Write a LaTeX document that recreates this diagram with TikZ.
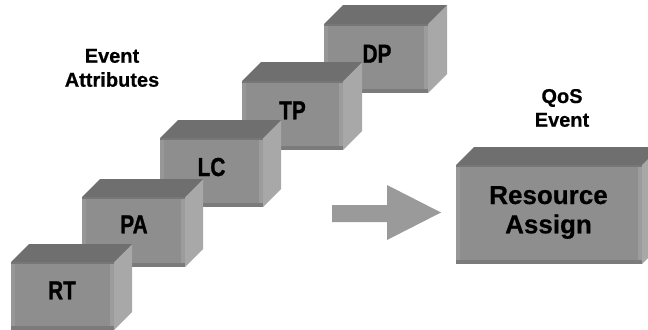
\documentclass[tikz,border=0pt]{standalone}
\usepackage{fontspec}
\setmainfont{Liberation Sans}
\newfontfamily\heavyfont[BoldFeatures={FakeBold=1.2}]{Liberation Sans}
\newfontfamily\capfont[BoldFeatures={FakeBold=0.5}]{Liberation Sans}
\definecolor{facecol}{HTML}{8E8E8E}
\definecolor{topcol}{HTML}{6F6F6F}
\definecolor{sidecol}{HTML}{A8A8A8}
\definecolor{leftcol}{HTML}{979797}
\definecolor{botcol}{HTML}{7B7B7B}
\definecolor{rightcol}{HTML}{9C9C9C}
\definecolor{edgecol}{HTML}{777777}
\definecolor{arrowcol}{HTML}{9A9A9A}
\tikzset{
  face/.style={fill=facecol, draw=none, inner sep=0pt, rectangle},
  boxlabel/.style={anchor=base, inner sep=0pt, font=\heavyfont\fontsize{26bp}{30bp}\selectfont\bfseries},
  biglabel/.style={anchor=base, inner sep=0pt, font=\capfont\fontsize{26bp}{30bp}\selectfont\bfseries},
  caption/.style={anchor=base, inner sep=0pt, font=\capfont\fontsize{20bp}{24bp}\selectfont\bfseries},
}
% #1 name, #2 x0, #3 y0, #4 x1, #5 y1, #6 depth
\newcommand\cubebox[6]{%
  \fill[sidecol] (#4,#3) -- (#4+#6,#3-#6) -- (#4+#6,#5-#6) -- (#4,#5) -- cycle;
  \fill[topcol] (#2,#3) -- (#2+#6,#3-#6) -- (#4+#6,#3-#6) -- (#4,#3) -- cycle;
  \node[face, minimum width={(#4-#2)*1bp}, minimum height={(#5-#3)*1bp}] (#1) at ({(#2+#4)/2},{(#3+#5)/2}) {};
  \fill[leftcol] (#2,#3) rectangle (#2+4,#5);
  \fill[rightcol] (#4-4,#3) rectangle (#4,#5);
  \fill[botcol] (#2,#5-4) rectangle (#4,#5);
  \fill[edgecol] (#2,#3) rectangle (#4,#3+2);
}
\begin{document}
\begin{tikzpicture}[x=1bp,y=-1bp]
\useasboundingbox (0,0) rectangle (648,329);
% boxes, back to front
\cubebox{dp}{324}{24}{428}{93}{19}
\node[boxlabel] (dpl) at (377,62.7) {\scalebox{0.8}[1]{DP}};
\cubebox{tp}{242}{81}{343}{150}{19}
\node[boxlabel] (tpl) at (292.5,119.3) {\scalebox{0.8}[1]{TP}};
\cubebox{lc}{160}{138}{263}{207}{18}
\node[boxlabel] (lcl) at (211.5,176) {\scalebox{0.8}[1]{LC}};
\cubebox{pa}{82}{197}{185}{267}{18}
\node[boxlabel] (pal) at (134,233.3) {\scalebox{0.8}[1]{PA}};
\cubebox{rt}{11}{262}{114}{330}{18}
\node[boxlabel] (rtl) at (62,299.3) {\scalebox{0.8}[1]{RT}};
% resource assign
\cubebox{ra}{456}{165}{642}{264}{18}
\node[biglabel] (ra1) at (548.5,204) {Resource};
\node[biglabel] (ra2) at (548.5,233.3) {Assign};
% arrow
\fill[arrowcol] (332,205) -- (387,205) -- (387,185) -- (441,212.5) -- (387,240) -- (387,222) -- (332,222) -- cycle;
% captions
\node[caption] (ev1) at (112,62.7) {Event};
\node[caption] (ev2) at (112,86.7) {Attributes};
\node[caption] (qos1) at (562,103) {QoS};
\node[caption] (qos2) at (562,126.7) {Event};
\end{tikzpicture}
\end{document}
